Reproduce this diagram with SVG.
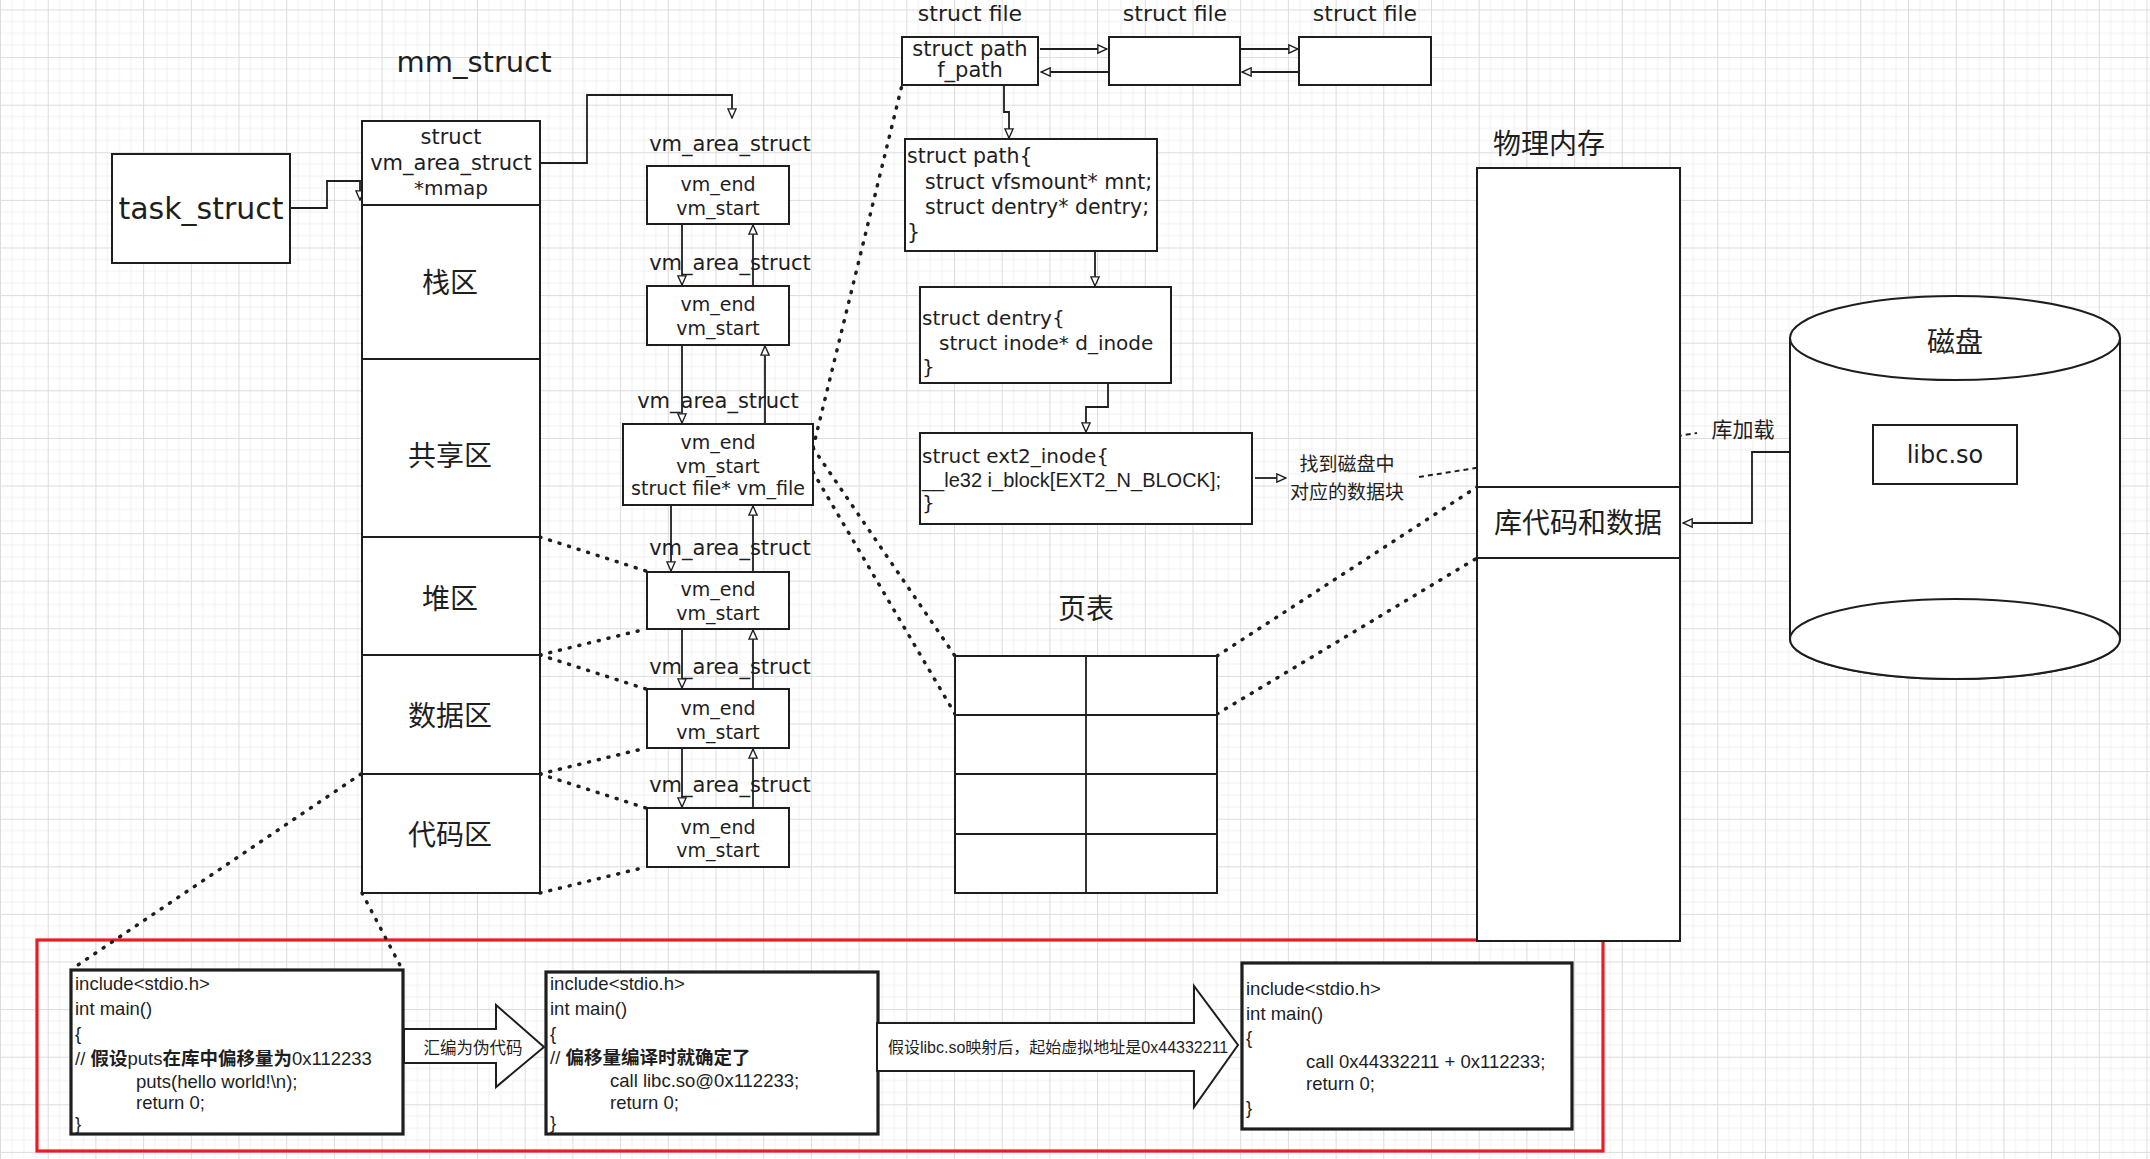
<svg xmlns="http://www.w3.org/2000/svg" width="2150" height="1159" viewBox="0 0 2150 1159">
<defs>
<pattern id="grid" width="47.7" height="47.6" patternUnits="userSpaceOnUse" x="0" y="9.5">
<path d="M11.9 0V47.6M23.85 0V47.6M35.8 0V47.6M0 11.9H47.7M0 23.8H47.7M0 35.7H47.7" stroke="#f1f1f1" stroke-width="1" fill="none"/>
<path d="M0.5 0V47.6M0 0.5H47.7" stroke="#dcdcdc" stroke-width="1" fill="none"/>
</pattern>
<marker id="ah" viewBox="0 0 12 12" refX="11" refY="6" markerWidth="11" markerHeight="11" markerUnits="userSpaceOnUse" orient="auto">
<path d="M1,1.5 L11,6 L1,10.5 Z" fill="#fff" stroke="#1e1e1e" stroke-width="1.5"/>
</marker>
<style>
.box{fill:#fff;stroke:#1e1e1e;stroke-width:2}
.heavy{fill:#fff;stroke:#1e1e1e;stroke-width:3.2}
.t{font-family:"DejaVu Sans","Noto Sans CJK SC",sans-serif;fill:#1e1e1e;dominant-baseline:central}
.lib{font-family:"Liberation Sans","Noto Sans CJK SC",sans-serif}
.c{text-anchor:middle}
.cjk{font-family:"Noto Sans CJK SC",sans-serif}
.s19{font-size:19px}
.s20{font-size:20px}
.s21{font-size:21px}
.s22{font-size:22px}
.code{font-size:18.5px}
.s28{font-size:28px}
.ln{fill:none;stroke:#1e1e1e;stroke-width:1.8}
.arr{marker-end:url(#ah)}
.dot{fill:none;stroke:#1e1e1e;stroke-width:3.5;stroke-dasharray:1 9;stroke-linecap:round}
.thin{fill:none;stroke:#1e1e1e;stroke-width:2;stroke-dasharray:5 4}
</style>
</defs>
<rect width="2150" height="1159" fill="#fff"/>
<rect width="2150" height="1159" fill="url(#grid)"/>

<g id="red-frame"><rect x="37" y="940" width="1566" height="211" fill="none" stroke="#ec1c24" stroke-width="3.2"/></g>

<g id="connectors">
<path class="ln arr" d="M290,208 L327,208 L327,181 L360,181 L360,200"/>
<path class="ln arr" d="M540,163 L587,163 L587,95 L732,95 L732,118"/>
<path class="ln arr" d="M682,224 V285"/>
<path class="ln arr" d="M753,286 V225"/>
<path class="ln arr" d="M682,345 V423"/>
<path class="ln arr" d="M765,424 V346"/>
<path class="ln arr" d="M671,505 V571"/>
<path class="ln arr" d="M753,572 V506"/>
<path class="ln arr" d="M682,629 V688"/>
<path class="ln arr" d="M753,689 V630"/>
<path class="ln arr" d="M682,748 V807"/>
<path class="ln arr" d="M753,808 V749"/>
<path class="ln arr" d="M1040,49 H1107"/>
<path class="ln arr" d="M1108,72 H1041"/>
<path class="ln arr" d="M1241,49 H1298"/>
<path class="ln arr" d="M1299,72 H1242"/>
<path class="ln arr" d="M1004,85 L1004,112 L1009,112 L1009,138"/>
<path class="ln arr" d="M1095,251 V286"/>
<path class="ln arr" d="M1108,383 L1108,407 L1086,407 L1086,432"/>
<path class="ln arr" d="M1255,478 H1286"/>
<path class="ln arr" d="M1871,452 L1752,452 L1752,523 L1683,523"/>
<path class="dot" d="M540,537 L646,571"/>
<path class="dot" d="M540,655 L646,629"/>
<path class="dot" d="M540,655 L646,689"/>
<path class="dot" d="M540,774 L646,748"/>
<path class="dot" d="M540,774 L646,808"/>
<path class="dot" d="M540,893 L646,867"/>
<path class="dot" d="M813,448 L955,656"/>
<path class="dot" d="M813,472 L955,714"/>
<path class="dot" d="M813,448 L902,85"/>
<path class="dot" d="M1217,656 L1477,487"/>
<path class="dot" d="M1217,714 L1477,558"/>
<path class="dot" d="M361,774 L72,969"/>
<path class="dot" d="M362,893 L402,969"/>
<path class="thin" d="M1419,477 L1697,433"/>
</g>

<g id="mm_struct-label"><text class="t c" x="474" y="62" font-size="29">mm_struct</text></g>

<g id="task_struct"><rect class="box" x="112" y="154" width="178" height="109"/><text class="t c" x="201" y="208" font-size="30">task_struct</text></g>

<g id="mmap"><rect class="box" x="362" y="121" width="178" height="84"/>
<text class="t c s21" x="451" y="137">struct</text>
<text class="t c s21" x="451" y="163">vm_area_struct</text>
<text class="t c s20" x="451" y="188">*mmap</text></g>

<g id="stack"><rect class="box" x="362" y="205" width="178" height="154"/><text class="t c cjk s28" x="450" y="281">栈区</text></g>
<g id="shared"><rect class="box" x="362" y="359" width="178" height="178"/><text class="t c cjk s28" x="450" y="454">共享区</text></g>
<g id="heap"><rect class="box" x="362" y="537" width="178" height="118"/><text class="t c cjk s28" x="450" y="597">堆区</text></g>
<g id="data"><rect class="box" x="362" y="655" width="178" height="119"/><text class="t c cjk s28" x="450" y="714">数据区</text></g>
<g id="code"><rect class="box" x="362" y="774" width="178" height="119"/><text class="t c cjk s28" x="450" y="833">代码区</text></g>

<g id="vma1"><text class="t c s21" x="730" y="144">vm_area_struct</text><rect class="box" x="647" y="166" width="142" height="58"/>
<text class="t c s19" x="718" y="184">vm_end</text><text class="t c s19" x="718" y="208">vm_start</text></g>
<g id="vma2"><text class="t c s21" x="730" y="263">vm_area_struct</text><rect class="box" x="647" y="286" width="142" height="59"/>
<text class="t c s19" x="718" y="304">vm_end</text><text class="t c s19" x="718" y="328">vm_start</text></g>
<g id="vma3"><text class="t c s21" x="718" y="401">vm_area_struct</text><rect class="box" x="623" y="424" width="190" height="81"/>
<text class="t c s19" x="718" y="442">vm_end</text><text class="t c s19" x="718" y="466">vm_start</text><text class="t c s19" x="718" y="488">struct file* vm_file</text></g>
<g id="vma4"><text class="t c s21" x="730" y="548">vm_area_struct</text><rect class="box" x="647" y="572" width="142" height="57"/>
<text class="t c s19" x="718" y="589">vm_end</text><text class="t c s19" x="718" y="613">vm_start</text></g>
<g id="vma5"><text class="t c s21" x="730" y="667">vm_area_struct</text><rect class="box" x="647" y="689" width="142" height="59"/>
<text class="t c s19" x="718" y="708">vm_end</text><text class="t c s19" x="718" y="732">vm_start</text></g>
<g id="vma6"><text class="t c s21" x="730" y="785">vm_area_struct</text><rect class="box" x="647" y="808" width="142" height="59"/>
<text class="t c s19" x="718" y="827">vm_end</text><text class="t c s19" x="718" y="850">vm_start</text></g>

<g id="file1"><text class="t c s22" x="970" y="13">struct file</text><rect class="box" x="902" y="37" width="136" height="48"/>
<text class="t c s21" x="970" y="49">struct path</text><text class="t c s21" x="970" y="70">f_path</text></g>
<g id="file2"><text class="t c s22" x="1175" y="13">struct file</text><rect class="box" x="1109" y="37" width="131" height="48"/></g>
<g id="file3"><text class="t c s22" x="1365" y="13">struct file</text><rect class="box" x="1299" y="37" width="132" height="48"/></g>

<g id="struct-path"><rect class="box" x="905" y="139" width="252" height="112"/>
<text class="t" x="907" y="156" font-size="20.5">struct path{</text>
<text class="t" x="925" y="182" font-size="20.5">struct vfsmount* mnt;</text>
<text class="t" x="925" y="207" font-size="20.5">struct dentry* dentry;</text>
<text class="t" x="907" y="232" font-size="20.5">}</text></g>

<g id="struct-dentry"><rect class="box" x="920" y="287" width="251" height="96"/>
<text class="t s20" x="922" y="318">struct dentry{</text>
<text class="t s20" x="939" y="343">struct inode* d_inode</text>
<text class="t s20" x="922" y="367">}</text></g>

<g id="ext2-inode"><rect class="box" x="920" y="433" width="332" height="91"/>
<text class="t s20" x="922" y="456">struct ext2_inode{</text>
<text class="t lib s20" x="922" y="480">__le32 i_block[EXT2_N_BLOCK];</text>
<text class="t s20" x="922" y="503">}</text></g>

<g id="find-block"><text class="t c cjk s19" x="1347" y="462">找到磁盘中</text><text class="t c cjk s19" x="1347" y="490">对应的数据块</text></g>

<g id="page-table"><text class="t c cjk s28" x="1086" y="607">页表</text>
<rect class="box" x="955" y="656" width="262" height="237"/>
<path class="ln" d="M1086,656 V893 M955,715 H1217 M955,774 H1217 M955,834 H1217"/></g>

<g id="phys-mem"><text class="t c cjk s28" x="1549" y="142">物理内存</text>
<rect class="box" x="1477" y="168" width="203" height="773"/></g>
<g id="lib-code"><rect class="box" x="1477" y="487" width="203" height="71"/><text class="t c cjk s28" x="1578" y="521">库代码和数据</text></g>

<g id="disk">
<path class="box" d="M1790,338 V639 A165,40 0 0 0 2120,639 V338"/>
<ellipse class="box" cx="1955" cy="639" rx="165" ry="40"/>
<ellipse class="box" cx="1955" cy="338" rx="165" ry="42"/>
<text class="t c cjk s28" x="1955" y="340">磁盘</text></g>
<g id="libc"><rect class="box" x="1873" y="425" width="144" height="59"/><text class="t c" x="1945" y="455" font-size="24">libc.so</text></g>
<g id="lib-load"><text class="t c cjk s21" x="1743" y="428">库加载</text></g>

<g id="src-code"><rect class="heavy" x="71" y="970" width="332" height="164"/>
<text class="t lib code" x="75" y="983">include&lt;stdio.h&gt;</text>
<text class="t lib code" x="75" y="1008">int main()</text>
<text class="t lib code" x="75" y="1033">{</text>
<text class="t lib code" x="75" y="1058">// <tspan font-weight="bold">假设</tspan>puts<tspan font-weight="bold">在库中偏移量为</tspan>0x112233</text>
<text class="t lib code" x="136" y="1081">puts(hello world!\n);</text>
<text class="t lib code" x="136" y="1102">return 0;</text>
<text class="t lib code" x="75" y="1123">}</text></g>

<g id="arrow-asm"><path d="M404,1029 H496 V1005 L544,1047 L496,1087 V1063 H404 Z" fill="#fff" stroke="#1e1e1e" stroke-width="2"/>
<text class="t c cjk" x="473" y="1047" font-size="16.5">汇编为伪代码</text></g>

<g id="asm-code"><rect class="heavy" x="546" y="972" width="332" height="162"/>
<text class="t lib code" x="550" y="983">include&lt;stdio.h&gt;</text>
<text class="t lib code" x="550" y="1008">int main()</text>
<text class="t lib code" x="550" y="1033">{</text>
<text class="t lib code" x="550" y="1057">// <tspan font-weight="bold">偏移量编译时就确定了</tspan></text>
<text class="t lib code" x="610" y="1080">call libc.so@0x112233;</text>
<text class="t lib code" x="610" y="1102">return 0;</text>
<text class="t lib code" x="550" y="1122">}</text></g>

<g id="arrow-map"><path d="M877,1023 H1194 V986 L1238,1045 L1194,1107 V1071 H877 Z" fill="#fff" stroke="#1e1e1e" stroke-width="2"/>
<text class="t lib" x="888" y="1047" font-size="16">假设libc.so映射后，起始虚拟地址是0x44332211</text></g>

<g id="final-code"><rect class="heavy" x="1242" y="963" width="330" height="166"/>
<text class="t lib code" x="1246" y="988">include&lt;stdio.h&gt;</text>
<text class="t lib code" x="1246" y="1013">int main()</text>
<text class="t lib code" x="1246" y="1037">{</text>
<text class="t lib code" x="1306" y="1061">call 0x44332211 +  0x112233;</text>
<text class="t lib code" x="1306" y="1083">return 0;</text>
<text class="t lib code" x="1246" y="1107">}</text></g>
</svg>
